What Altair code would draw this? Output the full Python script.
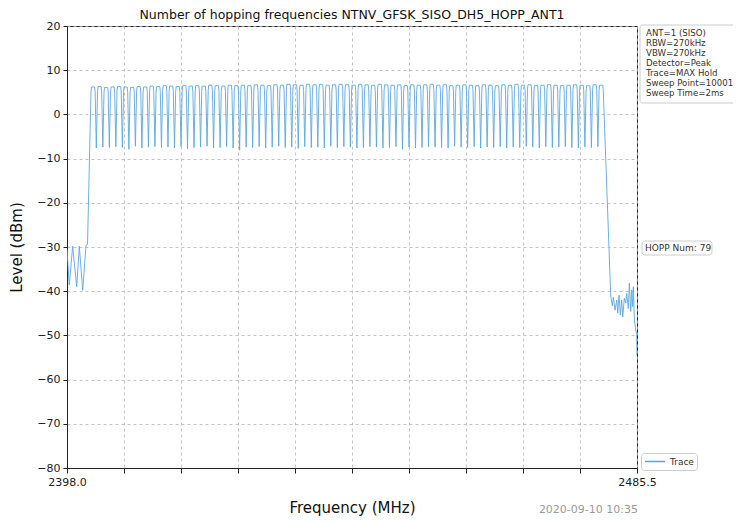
import altair as alt
import pandas as pd

# ---------------- data ----------------
channel_mhz = [2402, 2403, 2404, 2405, 2406, 2407, 2408, 2409, 2410, 2411,
               2412, 2413, 2414, 2415, 2416, 2417, 2418, 2419, 2420, 2421,
               2422, 2423, 2424, 2425, 2426, 2427, 2428, 2429, 2430, 2431,
               2432, 2433, 2434, 2435, 2436, 2437, 2438, 2439, 2440, 2441,
               2442, 2443, 2444, 2445, 2446, 2447, 2448, 2449, 2450, 2451,
               2452, 2453, 2454, 2455, 2456, 2457, 2458, 2459, 2460, 2461,
               2462, 2463, 2464, 2465, 2466, 2467, 2468, 2469, 2470, 2471,
               2472, 2473, 2474, 2475, 2476, 2477, 2478, 2479, 2480]

peak_dbm = [6.2, 6.3, 6.1, 6.2, 6.3, 6.2, 6.1, 6.3, 6.2, 6.4,
            6.3, 6.5, 6.4, 6.3, 6.5, 6.4, 6.5, 6.4, 6.6, 6.5,
            6.4, 6.6, 6.5, 6.6, 6.5, 6.7, 6.6, 6.5, 6.7, 6.6,
            6.8, 6.7, 6.6, 6.8, 6.7, 6.8, 6.6, 6.7, 6.8, 6.7,
            6.6, 6.8, 6.7, 6.6, 6.8, 6.7, 6.6, 6.7, 6.5, 6.7,
            6.6, 6.7, 6.8, 6.6, 6.7, 6.5, 6.6, 6.7, 6.6, 6.5,
            6.7, 6.6, 6.5, 6.7, 6.6, 6.8, 6.6, 6.7, 6.5, 6.6,
            6.7, 6.6, 6.5, 6.6, 6.7, 6.6, 6.5, 6.7, 6.6]

valley_dbm = [-7.6, -7.4, -7.5, -7.3, -7.5, -7.9, -7.2, -7.6, -7.4, -7.3,
              -7.5, -7.4, -7.6, -7.3, -7.8, -7.5, -7.4, -7.2, -7.6, -7.5,
              -7.3, -7.6, -8.1, -7.4, -7.5, -7.3, -7.6, -7.4, -7.2, -7.5,
              -7.4, -7.7, -7.3, -7.5, -7.4, -7.6, -7.2, -7.5, -7.3, -7.4,
              -7.6, -7.5, -7.3, -7.4, -7.6, -7.5, -7.3, -7.9, -7.4, -7.6,
              -7.5, -7.3, -7.4, -7.5, -7.6, -7.2, -7.4, -7.5, -7.3, -7.6,
              -7.4, -7.5, -7.3, -7.6, -7.4, -7.5, -7.2, -7.4, -7.6, -7.3,
              -7.5, -7.4, -7.3, -7.5, -7.6, -7.4, -7.5, -7.3]

left_mhz = [2398.0, 2398.35, 2398.87, 2399.49, 2399.89, 2400.41, 2400.92, 2401.15]
left_dbm = [-30.5, -38.6, -29.8, -39.0, -29.8, -39.8, -29.6, -29.4]

right_mhz = [2481.47, 2481.72, 2481.87, 2482.13, 2482.39, 2482.54, 2482.74, 2482.94,
             2483.15, 2483.31, 2483.56, 2483.77, 2483.92, 2484.17, 2484.32, 2484.54,
             2484.69, 2484.84, 2484.94, 2485.10, 2485.30, 2485.45, 2485.5]
right_dbm = [-41.1, -43.3, -41.4, -44.3, -42.0, -45.0, -40.9, -45.4,
             -42.0, -45.8, -41.6, -42.7, -40.5, -43.9, -38.2, -44.6,
             -39.7, -43.5, -39.0, -46.5, -48.8, -49.5, -54.5]

x_ticks = [2398.0, 2406.75, 2415.5, 2424.25, 2433.0, 2441.75,
           2450.5, 2459.25, 2468.0, 2476.75, 2485.5]
y_ticks = [20, 10, 0, -10, -20, -30, -40, -50, -60, -70, -80]

info_lines = ["ANT=1 (SISO)", "RBW=270kHz", "VBW=270kHz", "Detector=Peak",
              "Trace=MAX Hold", "Sweep Point=10001", "Sweep Time=2ms"]
hopp_text = "HOPP Num: 79"
timestamp = "2020-09-10 10:35"
title_text = "Number of hopping frequencies NTNV_GFSK_SISO_DH5_HOPP_ANT1"

# ---------------- build the trace table ----------------
# shape of each channel's plateau (offsets in MHz / dB)
TOP_HALF = 0.24
SHOULDER = 0.32
SHOULDER_DROP = 1.2
rows = []
for f, d in zip(left_mhz, left_dbm):
    rows.append((f, d))
for i, (f, p) in enumerate(zip(channel_mhz, peak_dbm)):
    rows.append((f - SHOULDER, p - SHOULDER_DROP))
    rows.append((f - TOP_HALF, p))
    rows.append((f + TOP_HALF, p))
    rows.append((f + SHOULDER, p - SHOULDER_DROP))
    if i < len(valley_dbm):
        rows.append((f + 0.5, valley_dbm[i]))
for f, d in zip(right_mhz, right_dbm):
    rows.append((f, d))
trace_df = pd.DataFrame(rows, columns=["freq", "level"])
trace_df["series"] = "Trace"

FONT = "DejaVu Sans"
W, H = 570, 442

line = alt.Chart(trace_df).mark_line(strokeWidth=0.9, clip=True).encode(
    x=alt.X("freq:Q",
            scale=alt.Scale(domain=[2398.0, 2485.5], nice=False, zero=False),
            axis=alt.Axis(values=x_ticks, title="Frequency (MHz)",
                          labelExpr="datum.value == 2398 || datum.value == 2485.5 ? format(datum.value, '.1f') : ''",
                          labelFlush=False, labelOverlap=False, tickSize=5,
                          labelPadding=3, titlePadding=13, titleFontSize=15)),
    y=alt.Y("level:Q",
            scale=alt.Scale(domain=[-80, 20], nice=False),
            axis=alt.Axis(values=y_ticks, title="Level (dBm)", format="d",
                          tickSize=4, labelPadding=3, titlePadding=12,
                          titleFontSize=15)),
    color=alt.Color("series:N", scale=alt.Scale(range=["#5ba8e0"]),
                    legend=alt.Legend(orient="none", legendX=574, legendY=427,
                                      title=None, symbolType="stroke",
                                      symbolSize=400, symbolStrokeWidth=1.6,
                                      clipHeight=11,
                                      labelFontSize=9, labelFont=FONT,
                                      labelColor="#333", padding=3,
                                      strokeColor="#cccccc", fillColor="white",
                                      cornerRadius=3)),
)

one = pd.DataFrame({"k": [0]})

info_box = alt.Chart(one).mark_rect(fill="white", stroke="#cccccc", strokeWidth=1,
                                    cornerRadius=3).encode(
    x=alt.value(573), x2=alt.value(672), y=alt.value(-1), y2=alt.value(77))
info_text = alt.Chart(one).mark_text(align="left", baseline="top", fontSize=8.6,
                                     font=FONT, color="#333", lineHeight=10).encode(
    x=alt.value(579), y=alt.value(3), text=alt.value(info_lines))

hopp_box = alt.Chart(one).mark_rect(fill="white", stroke="#cccccc", strokeWidth=1,
                                    cornerRadius=3).encode(
    x=alt.value(575), x2=alt.value(645), y=alt.value(215), y2=alt.value(229))
hopp_lbl = alt.Chart(one).mark_text(align="left", baseline="middle", fontSize=9,
                                    font=FONT, color="#333").encode(
    x=alt.value(578), y=alt.value(222), text=alt.value(hopp_text))

stamp = alt.Chart(one).mark_text(align="right", baseline="middle", fontSize=11,
                                 font=FONT, color="#9a9a9a").encode(
    x=alt.value(571), y=alt.value(484), text=alt.value(timestamp))

chart = alt.layer(line, info_box, info_text, hopp_box, hopp_lbl, stamp).properties(
    width=W, height=H,
    title=alt.TitleParams(title_text, fontSize=12.5, font=FONT, fontWeight="normal",
                          color="#111", anchor="middle", offset=3, dy=4),
    autosize=alt.AutoSizeParams(type="none"),
    padding={"left": 59, "top": 18, "right": 96, "bottom": 50},
    background="white",
).configure_view(
    stroke="#222", strokeWidth=1
).configure_axis(
    labelFont=FONT, titleFont=FONT, labelFontSize=11, labelColor="#222",
    titleColor="#111", titleFontWeight="normal",
    domainColor="#222", tickColor="#222", domainWidth=1,
    gridColor="#b5b5b5", gridDash=[3, 3], gridWidth=0.8,
)

chart.save("out.html", embed_options={"renderer": "svg", "actions": False})
